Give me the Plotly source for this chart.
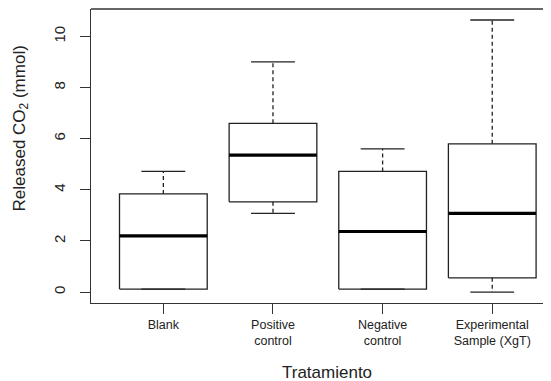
import plotly.graph_objects as go

categories = ["Blank", "Positive<br>control", "Negative<br>control", "Experimental<br>Sample (XgT)"]
lower_whisker = [0.12, 3.08, 0.12, 0.0]
q1 = [0.12, 3.53, 0.12, 0.56]
median = [2.2, 5.36, 2.37, 3.08]
q3 = [3.84, 6.6, 4.72, 5.8]
upper_whisker = [4.72, 9.0, 5.6, 10.64]
y_ticks = [0, 2, 4, 6, 8, 10]

BOX_HALF = 0.4
CAP_HALF = 0.2
LINE_COL = "#222222"

fig = go.Figure()
for i in range(len(categories)):
    x = i + 1
    # box
    fig.add_trace(go.Scatter(
        x=[x - BOX_HALF, x + BOX_HALF, x + BOX_HALF, x - BOX_HALF, x - BOX_HALF],
        y=[q1[i], q1[i], q3[i], q3[i], q1[i]],
        mode="lines", line=dict(color=LINE_COL, width=1.3),
        showlegend=False, hoverinfo="skip"))
    # median
    fig.add_trace(go.Scatter(
        x=[x - BOX_HALF, x + BOX_HALF], y=[median[i], median[i]],
        mode="lines", line=dict(color="black", width=3.2),
        showlegend=False, hoverinfo="skip"))
    # whiskers (dashed)
    fig.add_trace(go.Scatter(
        x=[x, x, None, x, x],
        y=[q3[i], upper_whisker[i], None, q1[i], lower_whisker[i]],
        mode="lines", line=dict(color=LINE_COL, width=1.3, dash="4px,3px"),
        showlegend=False, hoverinfo="skip"))
    # caps
    fig.add_trace(go.Scatter(
        x=[x - CAP_HALF, x + CAP_HALF, None, x - CAP_HALF, x + CAP_HALF],
        y=[upper_whisker[i], upper_whisker[i], None, lower_whisker[i], lower_whisker[i]],
        mode="lines", line=dict(color=LINE_COL, width=1.3),
        showlegend=False, hoverinfo="skip"))

# page body has an 8px default margin, so the figure is 8px smaller and shifted
fig.update_layout(
    template="none",
    width=543, height=373,
    margin=dict(l=82.5, r=0, t=1, b=78, autoexpand=False),
    plot_bgcolor="white", paper_bgcolor="white",
    font=dict(family="Liberation Sans, Arial, sans-serif", color="#222222"),
    xaxis=dict(range=[0.34, 4.536], tickmode="array", tickvals=[1, 2, 3, 4],
               ticktext=categories, ticks="outside", ticklen=10, tickwidth=1.2,
               tickcolor="#333333", showline=True, linecolor="#333333", linewidth=1.3,
               showgrid=False, zeroline=False, tickfont=dict(size=12.5),
               automargin=False),
    yaxis=dict(range=[-0.4256, 11.07], tickmode="array", tickvals=y_ticks,
               ticks="outside", ticklen=10, tickwidth=1.2, tickcolor="#333333",
               showline=True, linecolor="#333333", linewidth=1.3,
               showgrid=False, zeroline=False, tickangle=-90, tickfont=dict(size=15),
               ticklabelstandoff=9, automargin=False),
    shapes=[dict(type="line", xref="paper", yref="paper", x0=0, x1=1, y0=1, y1=1,
                 line=dict(color="#333333", width=1.3))],
    annotations=[
        dict(text="Released CO<sub>2</sub> (mmol)", textangle=-90, xref="paper", yref="paper",
             x=0, y=0.592, xanchor="center", yanchor="middle", xshift=-70.5,
             showarrow=False, font=dict(size=17)),
        dict(text="Tratamiento", xref="paper", yref="paper", x=(327 - 90.5) / 460.5, y=0,
             xanchor="center", yanchor="middle", yshift=-69, showarrow=False,
             font=dict(size=17)),
    ],
)

fig.write_html("out.html")
